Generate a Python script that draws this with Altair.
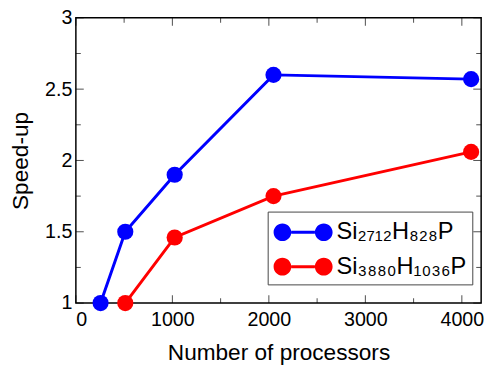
import altair as alt
import pandas as pd

# data
blue_label = "Si₂₇₁₂H₈₂₈P"
red_label = "Si₃₈₈₀H₁₀₃₆P"
blue_x = [256, 512, 1024, 2048, 4096]
blue_y = [1.0, 1.5, 1.9, 2.6, 2.57]
red_x = [512, 1024, 2048, 4096]
red_y = [1.0, 1.46, 1.75, 2.06]

x_major = [0, 1000, 2000, 3000, 4000]
x_minor = [500, 1500, 2500, 3500]
y_major = [1, 1.5, 2, 2.5, 3]
y_minor = [1.25, 1.75, 2.25, 2.75]
x_domain = [0, 4200]
y_domain = [1, 3]

df = pd.DataFrame(
    {
        "procs": blue_x + red_x,
        "speedup": blue_y + red_y,
        "series": [blue_label] * len(blue_x) + [red_label] * len(red_x),
    }
)

FONT = "Liberation Sans"

xscale = alt.Scale(domain=x_domain, nice=False, zero=False)
yscale = alt.Scale(domain=y_domain, nice=False, zero=False)

xaxis = alt.Axis(
    values=x_major, format="d", title="Number of processors",
    labelFontSize=20, titleFontSize=23, labelPadding=7, titlePadding=12,
    ticks=False, tickSize=0, domain=False, grid=False,
    labelFont=FONT, titleFont=FONT, titleFontWeight="normal",
    labelColor="black", titleColor="black",
)
yaxis = alt.Axis(
    values=y_major, format="~g", title="Speed-up",
    labelFontSize=20, titleFontSize=23, labelPadding=4, titlePadding=12,
    ticks=False, tickSize=0, domain=False, grid=False,
    labelFont=FONT, titleFont=FONT, titleFontWeight="normal",
    labelColor="black", titleColor="black",
)

color_scale = alt.Scale(domain=[blue_label, red_label], range=["#0000ff", "#ff0000"])

# symbol unit = 15px (symbolSize 900); shape spans -1..3 units (60px)
legend_path = (
    "M-1,0 A0.6,0.6 0 1,1 0.2,0 A0.6,0.6 0 1,1 -1,0 Z "
    "M1.8,0 A0.6,0.6 0 1,1 3,0 A0.6,0.6 0 1,1 1.8,0 Z "
    "M0.2,-0.1 L1.8,-0.1 L1.8,0.1 L0.2,0.1 Z"
)

legend = alt.Legend(
    title=None, orient="none", legendX=195, legendY=197,
    symbolType=legend_path, symbolSize=900, symbolStrokeWidth=0,
    labelFontSize=24, labelFont=FONT, labelColor="black",
    strokeColor="#444444", fillColor="white", padding=6,
    rowPadding=8, labelOffset=34,
)

base = alt.Chart(df).encode(
    x=alt.X("procs:Q", scale=xscale, axis=xaxis),
    y=alt.Y("speedup:Q", scale=yscale, axis=yaxis),
)

lines = base.mark_line(strokeWidth=3).encode(
    color=alt.Color("series:N", scale=color_scale, legend=legend),
)
points = base.mark_point(filled=True, size=270, opacity=1).encode(
    color=alt.Color("series:N", scale=color_scale, legend=legend),
)

def tick_layer(vals, axis_side, length):
    d = pd.DataFrame({"v": vals})
    half = length / 2
    if axis_side == "bottom":
        return alt.Chart(d).mark_tick(orient="vertical", size=length, thickness=1, color="black", yOffset=-half).encode(
            x=alt.X("v:Q", scale=xscale), y=alt.datum(y_domain[0]))
    if axis_side == "top":
        return alt.Chart(d).mark_tick(orient="vertical", size=length, thickness=1, color="black", yOffset=half).encode(
            x=alt.X("v:Q", scale=xscale), y=alt.datum(y_domain[1]))
    if axis_side == "left":
        return alt.Chart(d).mark_tick(orient="horizontal", size=length, thickness=1, color="black", xOffset=half).encode(
            y=alt.Y("v:Q", scale=yscale), x=alt.datum(x_domain[0]))
    return alt.Chart(d).mark_tick(orient="horizontal", size=length, thickness=1, color="black", xOffset=-half).encode(
        y=alt.Y("v:Q", scale=yscale), x=alt.datum(x_domain[1]))

ticks = []
for side in ["bottom", "top"]:
    ticks.append(tick_layer(x_major, side, 8))
    ticks.append(tick_layer(x_minor, side, 5))
for side in ["left", "right"]:
    ticks.append(tick_layer(y_major, side, 8))
    ticks.append(tick_layer(y_minor, side, 5))

chart = alt.layer(*ticks, lines, points).properties(
    width=412, height=290,
    autosize=alt.AutoSizeParams(type="none"),
    padding={"left": 69, "top": 7, "right": 9, "bottom": 62},
).configure_view(stroke="black", strokeWidth=1.5)

chart.save("out.html", embed_options={"renderer": "svg", "actions": False})
